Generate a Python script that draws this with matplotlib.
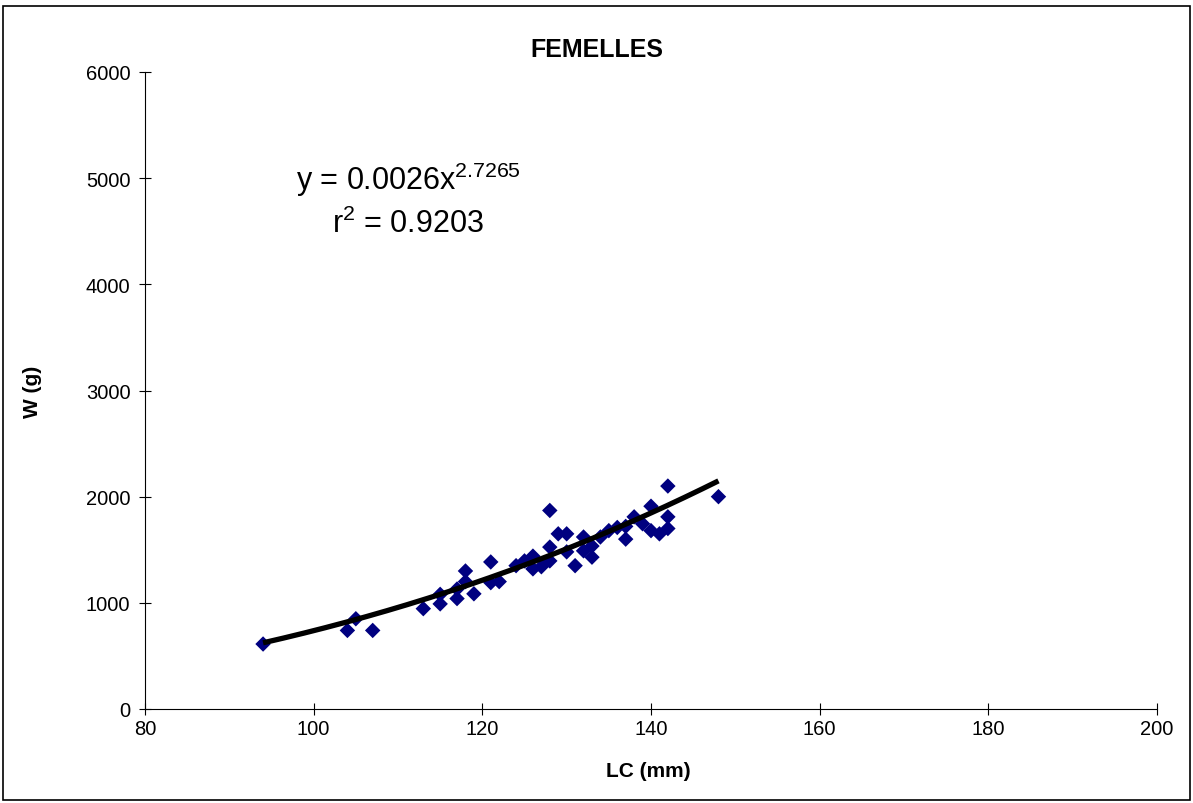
import numpy as np
import matplotlib.pyplot as plt
from matplotlib.patches import Rectangle

plt.rcParams['font.family'] = ['Liberation Sans', 'DejaVu Sans']
plt.rcParams['mathtext.fontset'] = 'custom'
plt.rcParams['mathtext.rm'] = 'Liberation Sans'

# LC (mm) vs W (g), femelles
lc = [94, 104, 105, 107, 113, 115, 115, 117, 117, 118, 118, 119,
      121, 121, 122, 124, 125, 126, 126, 127, 128, 128, 128, 129,
      130, 130, 131, 132, 132, 133, 133, 134, 135, 136, 137, 137,
      138, 139, 140, 140, 141, 142, 142, 142, 148]
w = [612, 740, 850, 740, 945, 990, 1080, 1040, 1130, 1300, 1200, 1085,
     1385, 1190, 1200, 1350, 1395, 1440, 1320, 1340, 1870, 1525, 1395, 1650,
     1650, 1480, 1350, 1620, 1490, 1430, 1535, 1620, 1680, 1710, 1600, 1720,
     1810, 1745, 1910, 1680, 1650, 1810, 1700, 2100, 2000]

# courbe de tendance (puissance) affichée sur le graphique
coef_a = 0.0026
coef_b = 2.7265
r2 = 0.9203

W, H = 1193, 804
fig = plt.figure(figsize=(W / 100, H / 100), dpi=100, facecolor="white")
ax = fig.add_axes([145 / W, 1 - 710 / H, (1157 - 145) / W, (710 - 73) / H])

ax.scatter(lc, w, marker="D", s=62, color="#000080", edgecolors="none", zorder=3)
xx = np.linspace(min(lc), max(lc), 200)
ax.plot(xx, coef_a * xx ** coef_b, color="black", lw=3.8, zorder=4,
        solid_capstyle="butt")

ax.set_xlim(80, 200)
ax.set_ylim(0, 6000)
ax.set_xticks(np.arange(80, 201, 20))
ax.set_yticks(np.arange(0, 6001, 1000))
ax.tick_params(direction="inout", length=9, width=0.8, labelsize=14.5)
ax.tick_params(axis="y", pad=6)
ax.tick_params(axis="x", pad=3)
for s in ("top", "right"):
    ax.spines[s].set_visible(False)
for s in ("left", "bottom"):
    ax.spines[s].set_linewidth(0.8)

fig.text(648 / W, 1 - 772 / H, "LC (mm)", fontsize=15, fontweight="bold",
         ha="center", va="center")
fig.text(32 / W, 1 - 392 / H, "W (g)", fontsize=15, fontweight="bold",
         ha="center", va="center", rotation=90)
fig.text(597 / W, 1 - 50 / H, "FEMELLES", fontsize=18, fontweight="bold",
         ha="center", va="center")

fig.text(296 / W, 1 - 180 / H, f"y = {coef_a}x$^{{{coef_b}}}$", fontsize=22,
         ha="left", va="center")
fig.text(332 / W, 1 - 224 / H, f"r$^{{2}}$ = {r2}", fontsize=22,
         ha="left", va="center")

# cadre extérieur
fig.patches.append(Rectangle((3 / W, 3 / H), 1 - 6 / W, 1 - 10 / H,
                             transform=fig.transFigure, fill=False,
                             edgecolor="black", lw=1.2))

plt.savefig("out.png", dpi=100)
plt.close()
